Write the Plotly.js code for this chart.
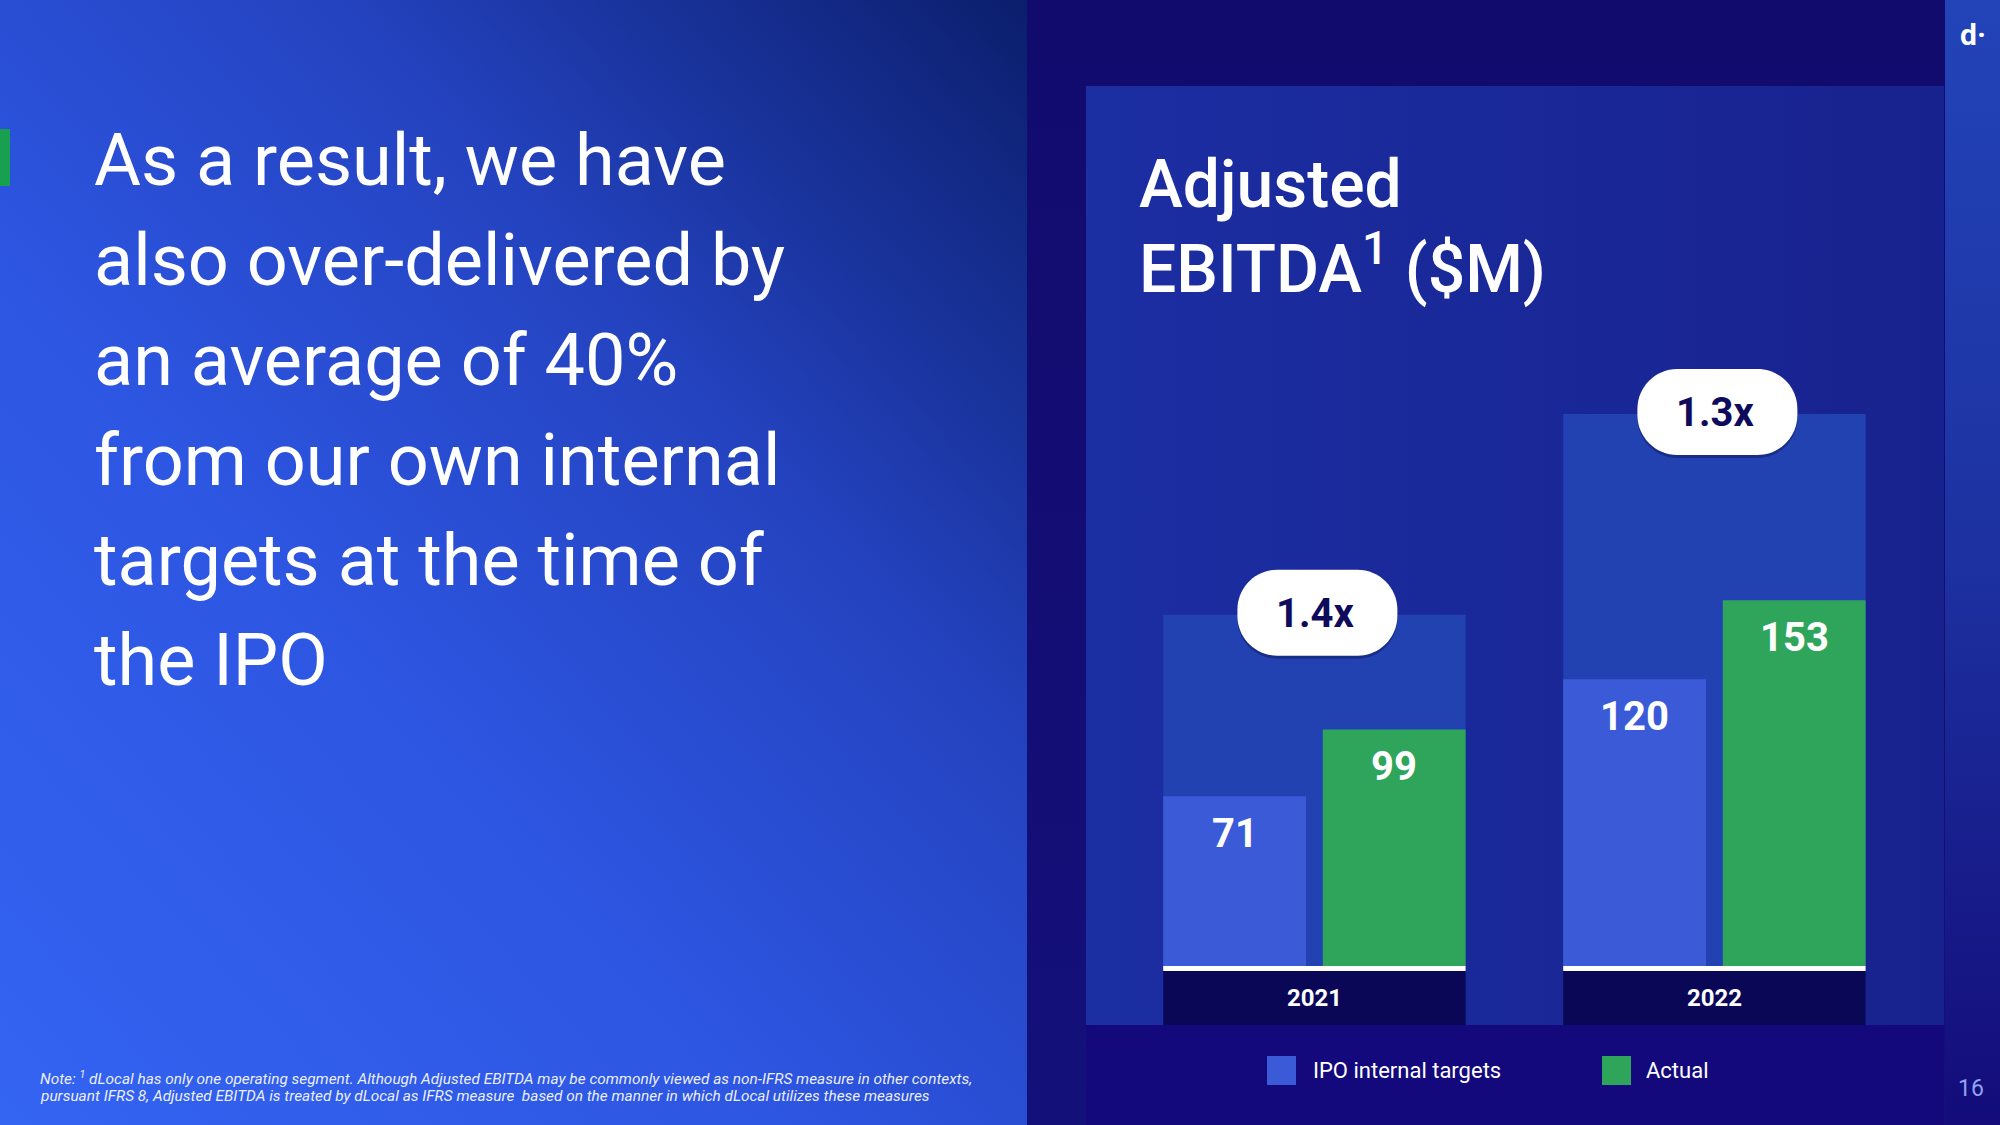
<!DOCTYPE html>
<html><head><meta charset="utf-8">
<script src="https://cdn.plot.ly/plotly-3.0.1.min.js"></script>
<style>
html,body{margin:0;padding:0;width:2000px;height:1125px;overflow:hidden;background:#120c70;}
.bg{position:absolute;}
#left{left:0;top:0;width:1027px;height:1125px;background:linear-gradient(to top right,#3464f2 0%,#2d56e2 38%,#2443c0 66%,#0b1e6c 100%);}
#rightbg{left:1027px;top:0;width:918px;height:1125px;background:linear-gradient(to bottom,#120b6e,#14107a);}
#card{left:1086px;top:86px;width:858px;height:939px;background:linear-gradient(to right,#1b2ea2,#18228e);}
#legband{left:1086px;top:1025px;width:858px;height:100px;background:#13087c;}
#strip{left:1945px;top:0;width:55px;height:1125px;background:linear-gradient(to bottom,#2244b8 0%,#1d31a0 50%,#130c7a 100%);}
#green{left:0;top:129px;width:10px;height:57px;background:#17a050;}
#chart{position:absolute;left:0;top:0;width:2000px;height:1125px;}
</style></head>
<body>
<div class="bg" id="left"></div>
<div class="bg" id="rightbg"></div>
<div class="bg" id="card"></div>
<div class="bg" id="legband"></div>
<div class="bg" id="strip"></div>
<div class="bg" id="green"></div>
<div id="chart"></div>
<script>
// ---- data ----
const categories = ['2021', '2022'];
const targets = [71, 120];
const actuals = [99, 153];
const ghostTotals = [147, 231];
const multiples = ['1.4x', '1.3x'];
const seriesNames = ['IPO internal targets', 'Actual'];
const titleLines = ['Adjusted', 'EBITDA<sup>1</sup> ($M)'];
const headline = ['As a result, we have', 'also over-delivered by', 'an average of 40%',
  'from our own internal', 'targets at the time of', 'the IPO'];
const noteLines = [
  'Note: <sup>1</sup> dLocal has only one operating segment. Although Adjusted EBITDA may be commonly viewed as non-IFRS measure in other contexts,',
  'pursuant IFRS 8, Adjusted EBITDA is treated by dLocal as IFRS measure  based on the manner in which dLocal utilizes these measures'
];
const pageNumber = '16';
const logoText = 'd·';

// ---- geometry ----
const PL = 1086, PR = 1944, PT = 86, PB = 966;
const W = PR - PL, H = PB - PT;
const px2x = p => (p - PL) / W;
const py2y = p => (PB - p) / H;
const HALF = 0.378, BARW = 0.357, GAP = 0.042;
const FONT = 'Roboto, sans-serif';

const traces = [
  {type: 'bar', x: categories, y: ghostTotals, width: HALF * 2, offset: -HALF,
   marker: {color: '#2242b2', line: {width: 0}}, hoverinfo: 'skip', showlegend: false},
  {type: 'bar', name: seriesNames[0], x: categories, y: targets, width: BARW, offset: -HALF,
   marker: {color: '#3a5ad8', line: {width: 0}}, showlegend: false},
  {type: 'bar', name: seriesNames[1], x: categories, y: actuals, width: BARW, offset: -HALF + BARW + GAP,
   marker: {color: '#2ea55a', line: {width: 0}}, showlegend: false}
];

const shapes = [];
const annotations = [];

function pillPath(w, h, r, dx, dy) {
  const k = 0.5523 * r, hx = w / 2, hy = h / 2;
  const X = v => (v + dx).toFixed(1), Y = v => (v + dy).toFixed(1);
  return `M${X(-hx + r)},${Y(-hy)} L${X(hx - r)},${Y(-hy)} C${X(hx - r + k)},${Y(-hy)} ${X(hx)},${Y(-hy + r - k)} ${X(hx)},${Y(-hy + r)} ` +
    `L${X(hx)},${Y(hy - r)} C${X(hx)},${Y(hy - r + k)} ${X(hx - r + k)},${Y(hy)} ${X(hx - r)},${Y(hy)} ` +
    `L${X(-hx + r)},${Y(hy)} C${X(-hx + r - k)},${Y(hy)} ${X(-hx)},${Y(hy - r + k)} ${X(-hx)},${Y(hy - r)} ` +
    `L${X(-hx)},${Y(-hy + r)} C${X(-hx)},${Y(-hy + r - k)} ${X(-hx + r - k)},${Y(-hy)} ${X(-hx + r)},${Y(-hy)} Z`;
}

categories.forEach((c, i) => {
  shapes.push({type: 'rect', xref: 'x', yref: 'paper', x0: i - HALF, x1: i + HALF,
    y0: py2y(966), y1: py2y(971), fillcolor: '#ffffff', line: {width: 0}, layer: 'above'});
  shapes.push({type: 'rect', xref: 'x', yref: 'paper', x0: i - HALF, x1: i + HALF,
    y0: py2y(971), y1: py2y(1025), fillcolor: '#0b0757', line: {width: 0}, layer: 'above'});
  shapes.push({type: 'path', xref: 'x', yref: 'y', xsizemode: 'pixel', ysizemode: 'pixel',
    xanchor: i, yanchor: ghostTotals[i], path: pillPath(160, 86, 40, 3, -1),
    fillcolor: 'rgba(5,5,60,0.35)', line: {width: 0}, layer: 'above'});
  shapes.push({type: 'path', xref: 'x', yref: 'y', xsizemode: 'pixel', ysizemode: 'pixel',
    xanchor: i, yanchor: ghostTotals[i], path: pillPath(160, 86, 40, 3, 2),
    fillcolor: '#ffffff', line: {width: 0}, layer: 'above'});
  annotations.push({xref: 'x', yref: 'y', x: i, y: ghostTotals[i], xshift: 1, yshift: 1,
    text: '<b>' + multiples[i] + '</b>', showarrow: false, xanchor: 'center', yanchor: 'middle',
    font: {family: FONT, size: 40, color: '#0e0a5c'}});
  annotations.push({xref: 'x', yref: 'y', x: i - HALF + BARW / 2, y: targets[i], yshift: -37,
    text: '<b>' + targets[i] + '</b>', showarrow: false, yanchor: 'middle',
    font: {family: FONT, size: 40, color: '#ffffff'}});
  annotations.push({xref: 'x', yref: 'y', x: i - HALF + BARW + GAP + BARW / 2, y: actuals[i], yshift: -37,
    text: '<b>' + actuals[i] + '</b>', showarrow: false, yanchor: 'middle',
    font: {family: FONT, size: 40, color: '#ffffff'}});
  annotations.push({xref: 'x', yref: 'paper', x: i, y: py2y(998),
    text: '<b>' + c + '</b>', showarrow: false, yanchor: 'middle',
    font: {family: FONT, size: 24, color: '#ffffff'}});
});

const titleBase = [207, 287];
titleLines.forEach((t, k) => {
  annotations.push({xref: 'paper', yref: 'paper', x: px2x(1138), y: py2y(titleBase[k] - 0.34 * 66),
    text: t, showarrow: false, xanchor: 'left', yanchor: 'middle', borderpad: 0,
    font: {family: FONT, size: 66, color: '#ffffff', weight: 500}});
});

headline.forEach((t, k) => {
  const base = 185 + k * 100.0;
  annotations.push({xref: 'paper', yref: 'paper', x: px2x(93), y: py2y(base - 0.34 * 72),
    text: t, showarrow: false, xanchor: 'left', yanchor: 'middle', borderpad: 0,
    font: {family: FONT, size: 72, color: '#ffffff'}});
});

noteLines.forEach((t, k) => {
  annotations.push({xref: 'paper', yref: 'paper', x: px2x(39), y: py2y(1078 + k * 18),
    text: t, showarrow: false, xanchor: 'left', yanchor: 'middle', borderpad: 0,
    font: {family: FONT, size: 15.4, color: 'rgba(255,255,255,0.92)', style: 'italic'}});
});

const legColors = ['#3a5ad8', '#2ea55a'];
const legSq = [1267, 1602];
const legTx = [1311, 1644];
seriesNames.forEach((n, k) => {
  shapes.push({type: 'rect', xref: 'paper', yref: 'paper', x0: px2x(legSq[k]), x1: px2x(legSq[k] + 29),
    y0: py2y(1056), y1: py2y(1085), fillcolor: legColors[k], line: {width: 0}});
  annotations.push({xref: 'paper', yref: 'paper', x: px2x(legTx[k]), y: py2y(1070),
    text: n, showarrow: false, xanchor: 'left', yanchor: 'middle',
    font: {family: FONT, size: 22, color: '#ffffff'}});
});

annotations.push({xref: 'paper', yref: 'paper', x: px2x(1958), y: py2y(34), text: '<b>' + logoText + '</b>',
  showarrow: false, xanchor: 'left', yanchor: 'middle', font: {family: FONT, size: 30, color: '#ffffff'}});
annotations.push({xref: 'paper', yref: 'paper', x: px2x(1971), y: py2y(1088), text: pageNumber,
  showarrow: false, xanchor: 'center', yanchor: 'middle', font: {family: FONT, size: 23, color: '#8ea3f2'}});

const layout = {
  width: 2000, height: 1125,
  margin: {l: PL, r: 2000 - PR, t: PT, b: 1125 - PB, pad: 0},
  paper_bgcolor: 'rgba(0,0,0,0)', plot_bgcolor: 'rgba(0,0,0,0)',
  barmode: 'overlay', showlegend: false,
  xaxis: {type: 'category', range: [-0.571, 1.574], visible: false, fixedrange: true},
  yaxis: {range: [0, H / 2.39], visible: false, fixedrange: true},
  shapes: shapes, annotations: annotations,
  font: {family: FONT}
};

Plotly.newPlot('chart', traces, layout, {staticPlot: true, displayModeBar: false});
</script>
</body></html>
